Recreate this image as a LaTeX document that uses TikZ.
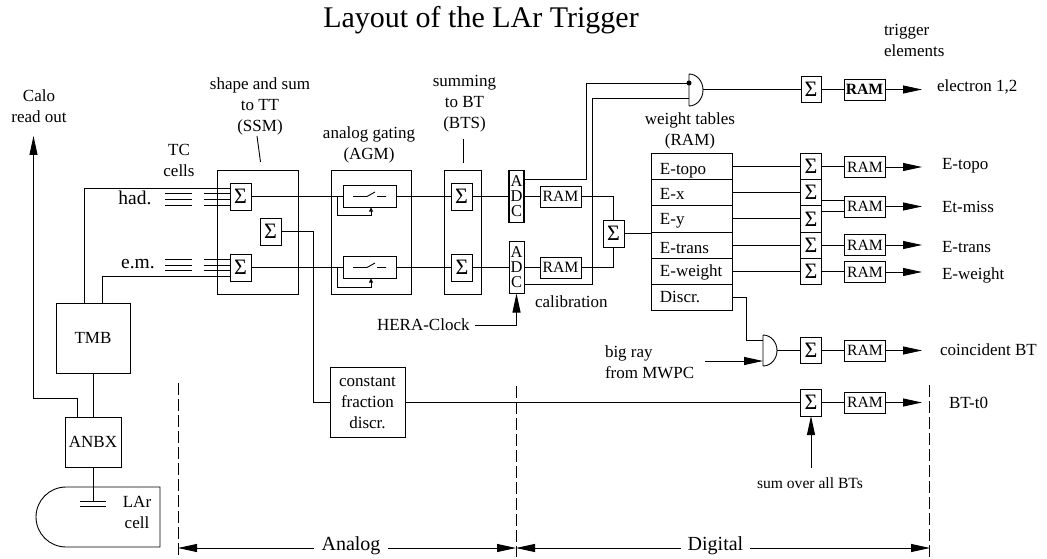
\documentclass[tikz,border=0pt]{standalone}
\usepackage{fontspec}
\setmainfont{Liberation Serif}
\usetikzlibrary{arrows.meta}
\begin{document}
\begin{tikzpicture}[x=1pt,y=-1pt,line width=0.9pt]
  \tikzstyle{every node}=[inner sep=0pt,outer sep=0pt,align=center,font=\fontsize{17}{21}\selectfont]
  \tikzstyle{bigarrow}=[-{Triangle[length=19pt,width=8pt]}]
  \tikzstyle{smallarrow}=[-{Triangle[length=4pt,width=4pt]}]
  \tikzstyle{sumbox}=[draw,fill=white,minimum width=21pt,minimum height=27pt,font=\fontsize{22}{22}\selectfont]
  \tikzstyle{rambox}=[draw,minimum width=41pt,minimum height=21pt,font=\fontsize{15.7}{16}\selectfont]
  \tikzstyle{adcbox}=[draw,minimum width=15pt,minimum height=52pt,font=\fontsize{16.5}{15}\selectfont]
  \tikzstyle{unitbox}=[draw,minimum height=124pt]
  \tikzstyle{gatebox}=[draw,minimum width=53pt,minimum height=22pt]
  \tikzstyle{tablerow}=[draw,minimum width=80.5pt,minimum height=26.3pt,text width=63.7pt,align=left,text depth=0pt]
  \tikzstyle{boundary}=[dash pattern=on 12pt off 4pt]
  \useasboundingbox (0,0) rectangle (1047,559);

  % headings
  \node (title) at (481,20) [font=\fontsize{30}{30}\selectfont] {Layout of the LAr Trigger};
  \node (trighead) at (884,40) [anchor=west,align=left] {trigger\\elements};
  \node (caloread) at (39,106) {Calo\\read out};
  \node (tccells) at (179,160) {TC\\cells};
  \node (ssmhead) at (260,106) {shape and sum\\to TT\\(SSM)};
  \node (agmhead) at (369,145) {analog gating\\(AGM)};
  \node (btshead) at (464.5,104) {summing\\to BT\\(BTS)};
  \node (tablehead) at (690,131) {weight tables\\(RAM)};
  \node (hadlabel) at (135,198) [font=\fontsize{19.5}{20}\selectfont] {had.};
  \node (emlabel) at (138,264) [font=\fontsize{19.5}{20}\selectfont] {e.m.};

  % readout chain
  \node (tmb) at (93,338) [draw,minimum width=74pt,minimum height=70pt] {TMB};
  \node (anbx) at (93,442) [draw,minimum width=56pt,minimum height=50pt] {ANBX};
  \node (larcell) at (137,512) {LAr\\cell};
  \coordinate (capacitor) at (93,501);
  \coordinate (caloout) at (33.5,136);
  \draw (tmb) -- (anbx);
  \draw (anbx) -- (capacitor);
  \draw (80,501) -- (106,501) (80,506) -- (106,506);
  \draw (160,487) -- (66,487) arc[start angle=90,end angle=270,radius=30pt] -- (160,547) -- cycle;
  \draw[bigarrow] (anbx.north -| 77.5,0) |- (33.5,398) -- (caloout);

  % shape and sum
  \node (ssm) at (257.5,232) [unitbox,minimum width=81pt] {};
  \node (sumhad) at (240.5,196.5) [sumbox] {Σ};
  \node (sumem) at (240.5,267.5) [sumbox] {Σ};
  \node (sumfast) at (270.5,231.5) [sumbox] {Σ};
  \draw (tmb.north -| 84,0) |- (sumhad.west |- 0,188);
  \draw (tmb.north -| 102,0) |- (sumem.west |- 0,276);
  \draw (257,136) -- (260.5,162);
  \foreach \ypos in {193,199,205,259,265,270}
    \draw (165,\ypos) -- (192,\ypos) (204,\ypos) -- (230,\ypos);

  % analog gating
  \node (agm) at (371,232) [unitbox,minimum width=80pt] {};
  \node (gatehad) at (369.5,196.5) [gatebox] {};
  \node (gateem) at (369.5,267.5) [gatebox] {};
  \coordinate (tapl) at (337,196.5);
  \coordinate (tapm) at (337,267.5);
  \draw (sumhad) -- (gatehad);
  \draw (sumem) -- (gateem);
  \draw[smallarrow] (tapl) |- (371,215) -- (gatehad.south -| 371,0);
  \draw[smallarrow] (tapm) |- (371,287) -- (gateem.south -| 371,0);
  \draw (353,196.5) -- (367,196.5) -- (375,192) (377,196.5) -- (386,196.5);
  \draw (353,267.5) -- (367,267.5) -- (375,263) (377,267.5) -- (386,267.5);

  % summing
  \node (bts) at (462.5,232) [unitbox,minimum width=37pt] {};
  \node (sumbthad) at (461.5,196.5) [sumbox] {Σ};
  \node (sumbtem) at (462,267.5) [sumbox] {Σ};
  \draw (463,139) -- (463,163);
  \draw (gatehad) -- (sumbthad);
  \draw (gateem) -- (sumbtem);

  % digitisation
  \node (adchad) at (516.5,196.5) [adcbox,line width=1.6pt] {A\\D\\C};
  \node (adcem) at (516.5,267.5) [adcbox] {A\\D\\C};
  \node (ramhad) at (560.5,196.5) [rambox] {RAM};
  \node (ramem) at (560.5,267.5) [rambox] {RAM};
  \node (sumbt) at (613.5,233.5) [sumbox] {Σ};
  \node (calib) at (535,302) [anchor=west] {calibration};
  \node (heraclock) at (377,325) [anchor=west,inner xsep=0pt] {HERA-Clock\hspace{5pt}};
  \draw (sumbthad) -- (adchad);
  \draw (sumbtem) -- (adcem);
  \draw (adchad) -- (ramhad);
  \draw (adcem) -- (ramem);
  \draw (ramhad) -| (sumbt);
  \draw (ramem) -| (sumbt);
  \draw[bigarrow] (heraclock.east) -| (adcem.south);

  % electron line
  \coordinate (andtop) at (689,89.5);
  \coordinate (andtopout) at (703,89.5);
  \coordinate (andtopa) at (689,83);
  \coordinate (andtopb) at (689,98);
  \node (sumelec) at (811,89.5) [sumbox,minimum width=20pt,minimum height=26pt] {Σ};
  \node (ramelec) at (864.5,89.5) [rambox,font=\fontsize{15.7}{16}\selectfont\bfseries] {RAM};
  \coordinate (outelec) at (922,89.5);
  \node (labelec) at (937,87) [anchor=west] {electron 1,2};
  \draw (689,74) -- (689,106) (689,74) arc[start angle=90,end angle=-90,x radius=14pt,y radius=16pt];
  \draw (adchad.east |- 0,179) -- (586,179) |- (andtopa);
  \draw (adcem.east |- 0,284) -- (592,284) |- (andtopb);
  \fill (andtopa) circle (2.5pt);
  \draw (andtopout) -- (sumelec.west |- andtopout);
  \draw (sumelec) -- (ramelec);
  \draw[bigarrow] (ramelec) -- (outelec);

  % weight tables
  \node (tabtopo) at (691.8,166.2) [tablerow,text height=17pt] {E-topo};
  \node (tabx) at (691.8,192.5) [tablerow,text height=15pt] {E-x};
  \node (taby) at (691.8,218.8) [tablerow,text height=12pt] {E-y};
  \node (tabtrans) at (691.8,245.1) [tablerow,text height=16pt] {E-trans};
  \node (tabweight) at (691.8,271.4) [tablerow,text height=11pt] {E-weight};
  \node (tabdiscr) at (691.8,297.7) [tablerow,text height=10pt] {Discr.};
  \draw (sumbt.east) -- (taby.west |- sumbt.east);

  % outputs
  \node (sumtopo) at (811,166.2) [sumbox,minimum width=21pt,minimum height=26.3pt] {Σ};
  \node (sumx) at (811,192.5) [sumbox,minimum width=21pt,minimum height=26.3pt] {Σ};
  \node (sumy) at (811,218.8) [sumbox,minimum width=21pt,minimum height=26.3pt] {Σ};
  \node (sumtrans) at (811,245.1) [sumbox,minimum width=21pt,minimum height=26.3pt] {Σ};
  \node (sumweight) at (811,271.4) [sumbox,minimum width=21pt,minimum height=26.3pt] {Σ};
  \node (ramtopo) at (865,167) [rambox] {RAM};
  \node (rammiss) at (865,206.5) [rambox] {RAM};
  \node (ramtrans) at (865,245) [rambox] {RAM};
  \node (ramweight) at (865,272) [rambox] {RAM};
  \coordinate (outtopo) at (922,167);
  \coordinate (outmiss) at (922,206.5);
  \coordinate (outtrans) at (922,245);
  \coordinate (outweight) at (922,272);
  \node (labtopo) at (942,166) [anchor=west] {E-topo};
  \node (labmiss) at (942,207) [anchor=west] {Et-miss};
  \node (labtrans) at (942,247) [anchor=west] {E-trans};
  \node (labweight) at (942,275) [anchor=west] {E-weight};
  \draw (tabtopo) -- (sumtopo);
  \draw (tabx) -- (sumx);
  \draw (taby) -- (sumy);
  \draw (tabtrans) -- (sumtrans);
  \draw (tabweight) -- (sumweight);
  \draw (sumtopo.east) -- (ramtopo.west |- sumtopo.east);
  \draw (sumx.east |- 0,200) -- (rammiss.west |- 0,200);
  \draw (sumy.east |- 0,211) -- (rammiss.west |- 0,211);
  \draw (sumtrans.east) -- (ramtrans.west |- sumtrans.east);
  \draw (sumweight.east) -- (ramweight.west |- sumweight.east);
  \draw[bigarrow] (ramtopo) -- (outtopo);
  \draw[bigarrow] (rammiss) -- (outmiss);
  \draw[bigarrow] (ramtrans) -- (outtrans);
  \draw[bigarrow] (ramweight) -- (outweight);

  % coincidence line
  \coordinate (andlowa) at (763,340);
  \coordinate (andlowb) at (763,361);
  \coordinate (andlowout) at (777,350.5);
  \coordinate (bigrayin) at (705,361);
  \node (bigray) at (605,362.5) [anchor=west,align=left] {big ray\\from MWPC};
  \node (sumcoin) at (811,350.5) [sumbox,minimum width=21pt,minimum height=26pt] {Σ};
  \node (ramcoin) at (865,350.5) [rambox] {RAM};
  \coordinate (outcoin) at (922,350.5);
  \node (labcoin) at (940,350) [anchor=west] {coincident BT};
  \draw (763,335) -- (763,366) (763,335) arc[start angle=90,end angle=-90,x radius=14pt,y radius=15.5pt];
  \draw (tabdiscr.east) -- (746,297.7) |- (andlowa);
  \draw[bigarrow] (bigrayin) -- (andlowb);
  \draw (andlowout) -- (sumcoin.west |- andlowout);
  \draw (sumcoin) -- (ramcoin);
  \draw[bigarrow] (ramcoin) -- (outcoin);

  % fast line
  \node (cfd) at (367.5,402.5) [draw,minimum width=75pt,minimum height=70pt] {constant\\fraction\\discr.};
  \node (sumtzero) at (811,402.5) [sumbox] {Σ};
  \node (ramtzero) at (865,402.5) [rambox] {RAM};
  \coordinate (outtzero) at (922,402.5);
  \node (labtzero) at (949,403) [anchor=west] {BT-t0};
  \node (sumall) at (810,483) [font=\fontsize{15.6}{16}\selectfont] {sum over all BTs};
  \coordinate (sumallin) at (811,468);
  \draw (sumfast.east) -- (313,231.5) |- (cfd.west);
  \draw (cfd) -- (sumtzero);
  \draw (sumtzero) -- (ramtzero);
  \draw[bigarrow] (ramtzero) -- (outtzero);
  \draw[bigarrow] (sumallin) -- (sumtzero.south);

  % analog and digital ranges
  \coordinate (edgea) at (178,548);
  \coordinate (edgeb) at (516,548);
  \coordinate (edgec) at (930,548);
  \node (analog) at (351,546) [font=\fontsize{20}{20}\selectfont,inner xsep=8pt] {Analog};
  \node (digital) at (715.5,546) [font=\fontsize{20}{20}\selectfont,inner xsep=7pt] {Digital};
  \draw[boundary] (178,383) -- (178,556);
  \draw[boundary] (516,386) -- (516,557);
  \draw[boundary] (929,385) -- (929,557);
  \draw[bigarrow] (analog.west |- edgea) -- (edgea);
  \draw[bigarrow] (analog.east |- edgeb) -- (edgeb);
  \draw[bigarrow] (digital.west |- edgeb) -- (edgeb);
  \draw[bigarrow] (digital.east |- edgec) -- (edgec);
\end{tikzpicture}
\end{document}
